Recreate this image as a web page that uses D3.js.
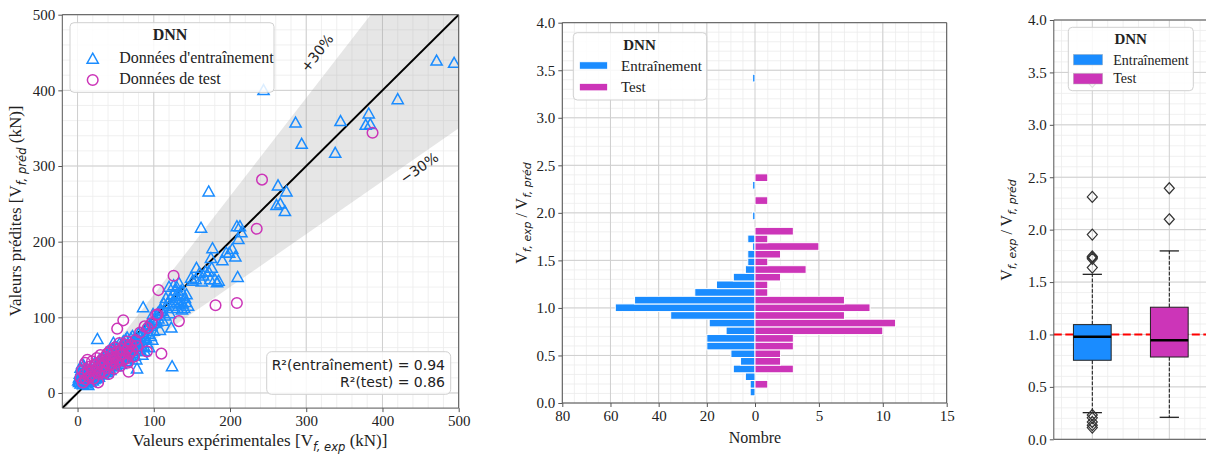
<!DOCTYPE html>
<html><head><meta charset="utf-8">
<script src="https://cdn.jsdelivr.net/npm/d3@7/dist/d3.min.js"></script>
<style>
body{margin:0;background:#fff;}
svg text{fill:#222;}
</style></head><body>
<svg id="fig" width="1206" height="455" font-family="'Liberation Serif', 'Times New Roman', serif"></svg>
<script>
// ---------- DNN predictions: training set [V_exp, V_pred] in kN ----------
const trainPts = [
 [2,14],[3,18],[4,12],[5,22],[5,30],[6,16],[7,11],[7,26],[8,19],[8,36],[9,14],[9,23],[10,17],[10,28],[11,12],[11,21],[12,15],[12,33],[13,19],[13,25],
 [14,10],[14,22],[15,17],[15,29],[3,25],[4,33],[6,38],[2,20],[1,16],[9,31],
 [16,20],[16,26],[17,14],[17,31],[18,22],[18,18],[19,27],[19,35],[20,16],[20,24],[21,29],[21,20],[22,33],[22,18],[23,26],[23,40],[24,22],[24,30],[25,19],[25,35],
 [26,27],[26,71],[27,24],[27,32],[28,38],[28,21],[29,29],[29,44],[30,25],[30,34],
 [31,30],[31,40],[32,27],[32,36],[33,45],[33,31],[34,24],[34,38],[35,33],[35,48],[36,29],[36,41],[37,35],[37,52],[38,31],[38,44],[39,38],[39,27],[40,36],[40,47],
 [41,42],[41,33],[42,55],[42,38],[43,45],[43,30],[44,41],[44,50],[45,35],[45,46],
 [46,40],[46,58],[47,66],[47,44],[48,37],[48,51],[49,46],[49,62],[50,42],[50,55],[51,48],[51,35],[52,60],[52,45],[53,52],[53,40],[54,56],[54,47],[55,50],[55,65],
 [56,43],[56,58],[57,53],[57,38],[58,62],[58,48],[59,55],[59,45],[60,59],[60,68],
 [61,52],[61,64],[62,47],[62,58],[63,70],[63,55],[64,42],[64,61],[65,57],[65,73],[66,50],[66,64],[67,60],[67,45],[68,68],[68,55],[69,62],[70,48],[70,72],[71,58],
 [71,66],[72,52],[72,75],[73,62],[74,56],[74,70],[75,65],[75,49],
 [76,68],[77,44],[78,32],[78,60],[79,72],[80,78],[80,55],[81,65],[82,57],[83,75],[84,70],[85,50],[86,80],[86,113],[87,62],[88,72],[88,55],[89,85],[90,72],[91,66],
 [92,86],[93,78],[94,60],[95,90],[96,75],[97,88],[98,70],[99,104],[100,96],[100,82],
 [102,92],[104,94],[105,105],[106,98],[108,83],[109,110],[110,108],[112,95],[113,118],[115,102],[116,125],[117,112],[118,118],[120,140],[121,105],[122,125],[123,86],[124,35],[124,115],[125,130],
 [126,142],[127,120],[128,135],[129,128],[130,140],[131,112],[132,122],[133,145],[134,118],[135,128],[136,135],[137,110],[138,118],[140,112],[141,125],[142,120],[143,130],[145,115],
 [149,152],[151,148],[155,150],[156,165],[160,158],[163,147],[162,218],[165,155],[168,160],[172,160],[172,266],[174,150],[175,178],[176,165],[177,191],[180,150],[183,146],[185,148],[190,175],[195,185],
 [199,185],[203,190],[207,180],[209,220],[210,153],[211,203],[213,220],[215,212],
 [244,400],[261,248],[263,274],[266,250],[272,240],[274,266],[286,357],[294,329],[338,317],[345,359],[378,354],[382,369],[384,355],[420,388],[471,439],[494,436]
];
// ---------- DNN predictions: test set [V_exp, V_pred] in kN ----------
const testPts = [
 [387,344],[242,282],[235,217],[126,155],[106,136],[181,116],[209,119],[133,95],[60,96],[52,85],[110,52],[91,55],[82,80],[103,103],[67,28],[27,14],
 [4,20],[6,30],[7,14],[9,25],[10,40],[11,18],[13,44],[14,28],[15,21],[16,35],[18,24],[19,42],[20,30],[21,19],[22,37],[24,27],[25,46],[26,33],[28,25],[29,40],
 [30,50],[31,29],[32,44],[33,36],[35,27],[36,48],[37,40],[38,33],[39,52],[40,44],[41,25],[42,36],[43,56],[44,46],[45,38],[46,52],[47,43],[48,32],[49,60],[50,48],
 [51,40],[53,55],[54,45],[55,66],[56,36],[57,50],[58,58],[59,43],[60,52],[62,64],[63,45],[64,56],[65,68],[66,40],[67,60],[68,52],[70,64],[72,56],[74,48],[76,70],
 [78,62],[88,88],[92,86],[97,92],[105,104]
];
const r2Labels = ["R\u00b2(entraînement) = 0.94", "R\u00b2(test) = 0.86"];
const scatterTicks = [0, 100, 200, 300, 400, 500];

// ---------- ratio V_exp / V_pred histogram (shared bins) ----------
const binCentre  = [0.116,0.197,0.277,0.358,0.438,0.519,0.599,0.680,0.760,0.841,0.921,1.002,1.082,1.163,1.243,1.324,1.404,1.485,1.565,1.646,1.726,1.807,1.968,2.129,2.290,2.370,3.417];
const trainCount = [2,2,4,9,6,10,20,20,12,19,35,58,50,25,16,9,4,3,3,1,3,0,1,0,1,0,1];
const testCount  = [0,1,0,3,2,2,3,3,10,11,7,9,7,1,1,2,4,1,2,5,1,3,0,1,0,1,0];
const binWidth = 0.0805;
const trainCountTicks = [80, 60, 40, 20, 0];
const testCountTicks = [5, 10, 15];
const ratioTicks = [0, 0.5, 1, 1.5, 2, 2.5, 3, 3.5, 4];

// ---------- ratio box plots ----------
const boxNames = ["Entraînement", "Test"];
const boxStats = [
  {whislo: 0.254, q1: 0.754, med: 0.979, q3: 1.094, whishi: 1.574},
  {whislo: 0.210, q1: 0.785, med: 0.945, q3: 1.260, whishi: 1.797}
];
const boxFliers = [
  [2.312, 1.953, 1.745, 1.735, 1.722, 1.638, 3.410, 0.232, 0.205, 0.165, 0.135, 0.112],
  [2.395, 2.099]
];

const BLUE = "#1a8cff", MAG = "#cc35b8";
const SANS = "'DejaVu Sans', sans-serif";
const SERIF = "'Liberation Serif', 'Times New Roman', serif";
const svg = d3.select("#fig");
const GRID_MAJ = "#cfcfcf", GRID_MIN = "#ececec", SPINE = "#555";

// text with a math-style italic subscript: parts = [text, {sub}, text, ...]
function richText(g, x, y, parts, size, rotate, anchor) {
  const t = g.append("text").attr("font-size", size).attr("text-anchor", anchor || "middle")
    .attr("transform", `translate(${x},${y})` + (rotate ? ` rotate(${rotate})` : ""));
  const shift = size * 0.28;
  parts.forEach((p, i) => {
    const s = t.append("tspan");
    if (typeof p === "string") {
      s.text(p);
      if (i > 0) s.attr("dy", -shift);
    } else {
      s.text(p.sub).style("font-family", SANS).style("font-style", "italic")
        .attr("font-size", size * 0.68).attr("dy", shift);
    }
  });
  return t;
}

function drawGrid(g, box, vMin, vMaj, hMin, hMaj) {
  const gg = g.append("g");
  vMin.forEach(x => gg.append("line").attr("x1", x).attr("x2", x).attr("y1", box.y0).attr("y2", box.y1).attr("stroke", GRID_MIN).attr("stroke-width", 0.8));
  hMin.forEach(y => gg.append("line").attr("y1", y).attr("y2", y).attr("x1", box.x0).attr("x2", box.x1).attr("stroke", GRID_MIN).attr("stroke-width", 0.8));
  vMaj.forEach(x => gg.append("line").attr("x1", x).attr("x2", x).attr("y1", box.y0).attr("y2", box.y1).attr("stroke", GRID_MAJ).attr("stroke-width", 1));
  hMaj.forEach(y => gg.append("line").attr("y1", y).attr("y2", y).attr("x1", box.x0).attr("x2", box.x1).attr("stroke", GRID_MAJ).attr("stroke-width", 1));
}

function frame(g, box, right) {
  const f = g.append("g").attr("fill", "none").attr("stroke", SPINE).attr("stroke-width", 1);
  f.append("line").attr("x1", box.x0).attr("x2", box.x0).attr("y1", box.y0).attr("y2", box.y1);
  f.append("line").attr("x1", box.x0).attr("x2", box.x1).attr("y1", box.y1).attr("y2", box.y1);
  f.append("line").attr("x1", box.x0).attr("x2", box.x1).attr("y1", box.y0).attr("y2", box.y0);
  if (right !== false) f.append("line").attr("x1", box.x1).attr("x2", box.x1).attr("y1", box.y0).attr("y2", box.y1);
}

function styleAxis(a, size) {
  a.attr("font-family", null).attr("font-size", null);
  a.select(".domain").remove();
  a.selectAll(".tick line").attr("stroke", SPINE);
  a.selectAll(".tick text").style("font-family", SERIF).attr("font-size", size).attr("fill", "#222");
}

// =================== Panel 1: predicted vs experimental ===================
{
  const x = d3.scaleLinear().domain([-20, 500]).range([62.3, 458.7]);
  const y = d3.scaleLinear().domain([-20, 500]).range([408.1, 14.7]);
  const box = {x0: 62.3, x1: 458.7, y0: 14.7, y1: 408.1};
  const g = svg.append("g");
  const minorV = d3.range(0, 501, 20);
  drawGrid(g, box, minorV.map(x), scatterTicks.map(x), minorV.map(y), scatterTicks.map(y));

  g.append("clipPath").attr("id", "clip1").append("rect")
    .attr("x", box.x0).attr("y", box.y0).attr("width", box.x1 - box.x0).attr("height", box.y1 - box.y0);
  const inner = g.append("g").attr("clip-path", "url(#clip1)");
  // ±30 % band
  const band = [[-20, -26], [500, 650], [500, 350], [-20, -14]];
  inner.append("path").attr("d", d3.line().x(d => x(d[0])).y(d => y(d[1]))(band) + "Z")
    .attr("fill", "#9a9a9a").attr("fill-opacity", 0.25);
  inner.append("line").attr("x1", x(-20)).attr("y1", y(-20)).attr("x2", x(500)).attr("y2", y(500))
    .attr("stroke", "#000").attr("stroke-width", 2);

  const tri = "M0,-5.8L5.6,4.2L-5.6,4.2Z";
  inner.append("g").selectAll("path").data(trainPts).join("path")
    .attr("d", tri).attr("transform", d => `translate(${x(d[0])},${y(d[1])})`)
    .attr("fill", "none").attr("stroke", BLUE).attr("stroke-width", 1.5);
  inner.append("g").selectAll("circle").data(testPts).join("circle")
    .attr("cx", d => x(d[0])).attr("cy", d => y(d[1])).attr("r", 5.3)
    .attr("fill", "none").attr("stroke", MAG).attr("stroke-width", 1.5);

  g.append("text").attr("transform", `translate(${321},${56}) rotate(-52)`).attr("text-anchor", "middle")
    .style("font-family", SANS).attr("font-size", 14).text("+30%");
  g.append("text").attr("transform", `translate(${422},${172}) rotate(-35)`).attr("text-anchor", "middle")
    .style("font-family", SANS).attr("font-size", 14).text("\u221230%");

  frame(g, box);
  styleAxis(g.append("g").attr("transform", `translate(0,${box.y1})`).call(d3.axisBottom(x).tickValues(scatterTicks).tickSize(4).tickPadding(3)), 15);
  styleAxis(g.append("g").attr("transform", `translate(${box.x0},0)`).call(d3.axisLeft(y).tickValues(scatterTicks).tickSize(4).tickPadding(3)), 15);

  richText(g, 260, 446, ["Valeurs expérimentales [V", {sub: "f, exp"}, " (kN)]"], 17);
  richText(g, 21, 211, ["Valeurs prédites [V", {sub: "f, préd"}, " (kN)]"], 17, -90);

  // legend
  const L = g.append("g");
  L.append("rect").attr("x", 70).attr("y", 22.7).attr("width", 204).attr("height", 69.6).attr("rx", 4)
    .attr("fill", "#fff").attr("fill-opacity", 0.85).attr("stroke", "#d0d0d0");
  L.append("text").attr("x", 170).attr("y", 40).attr("text-anchor", "middle").attr("font-weight", "bold").attr("font-size", 16).text("DNN");
  L.append("path").attr("d", tri).attr("transform", "translate(92.7,59)").attr("fill", "none").attr("stroke", BLUE).attr("stroke-width", 1.5);
  L.append("circle").attr("cx", 92.7).attr("cy", 80).attr("r", 5.3).attr("fill", "none").attr("stroke", MAG).attr("stroke-width", 1.5);
  L.append("text").attr("x", 119.3).attr("y", 63).attr("font-size", 16).text("Données d'entraînement");
  L.append("text").attr("x", 119.3).attr("y", 84).attr("font-size", 16).text("Données de test");

  // R² box
  const R = g.append("g");
  R.append("rect").attr("x", 266.7).attr("y", 351.7).attr("width", 184).attr("height", 42.6).attr("rx", 5)
    .attr("fill", "#fff").attr("fill-opacity", 0.85).attr("stroke", "#d0d0d0");
  r2Labels.forEach((s, i) => R.append("text").attr("x", 445).attr("y", 369.5 + i * 17.5).attr("text-anchor", "end")
    .style("font-family", SANS).attr("font-size", 14).text(s));
}

// =================== Panel 2: mirrored histogram ===================
{
  const y = d3.scaleLinear().domain([0, 4]).range([403, 22.7]);
  const xl = d3.scaleLinear().domain([80, 0]).range([562.3, 755]);
  const xr = d3.scaleLinear().domain([0, 15]).range([755, 946.7]);
  const box = {x0: 562.3, x1: 946.7, y0: 22.7, y1: 403};
  const g = svg.append("g");
  const vMin = d3.range(75, 0, -5).map(xl).concat(d3.range(1, 15, 1).map(xr));
  const vMaj = trainCountTicks.map(xl).concat(testCountTicks.map(xr));
  drawGrid(g, box, vMin, vMaj, d3.range(0.1, 4, 0.1).map(y), ratioTicks.map(y));

  const h = y(0) - y(binWidth);
  g.append("g").selectAll("rect").data(binCentre.map((c, i) => ({c, n: trainCount[i]})).filter(d => d.n > 0)).join("rect")
    .attr("x", d => xl(d.n)).attr("width", d => xl(0) - xl(d.n))
    .attr("y", d => y(d.c) - h / 2).attr("height", h)
    .attr("fill", BLUE).attr("stroke", "#fff").attr("stroke-width", 1);
  g.append("g").selectAll("rect").data(binCentre.map((c, i) => ({c, n: testCount[i]})).filter(d => d.n > 0)).join("rect")
    .attr("x", xr(0)).attr("width", d => xr(d.n) - xr(0))
    .attr("y", d => y(d.c) - h / 2).attr("height", h)
    .attr("fill", MAG).attr("stroke", "#fff").attr("stroke-width", 1);

  frame(g, box);
  const ax = g.append("g").attr("transform", `translate(0,${box.y1})`);
  styleAxis(ax.append("g").call(d3.axisBottom(xl).tickValues(trainCountTicks).tickSize(4).tickPadding(3)), 15);
  styleAxis(ax.append("g").call(d3.axisBottom(xr).tickValues(testCountTicks).tickSize(4).tickPadding(3)), 15);
  styleAxis(g.append("g").attr("transform", `translate(${box.x0},0)`).call(d3.axisLeft(y).tickValues(ratioTicks).tickFormat(d3.format(".1f")).tickSize(4).tickPadding(3)), 15);

  g.append("text").attr("x", 755).attr("y", 443).attr("text-anchor", "middle").attr("font-size", 16).text("Nombre");
  richText(g, 527, 213, ["V", {sub: "f, exp"}, " / V", {sub: "f, préd"}], 16, -90);

  const L = g.append("g");
  L.append("rect").attr("x", 573.3).attr("y", 32.7).attr("width", 133.4).attr("height", 67.3).attr("rx", 4)
    .attr("fill", "#fff").attr("fill-opacity", 0.85).attr("stroke", "#d0d0d0");
  L.append("text").attr("x", 639.5).attr("y", 49.5).attr("text-anchor", "middle").attr("font-weight", "bold").attr("font-size", 15).text("DNN");
  L.append("rect").attr("x", 579.3).attr("y", 61.7).attr("width", 28.4).attr("height", 7.6).attr("fill", BLUE).attr("stroke", "#fff");
  L.append("rect").attr("x", 579.3).attr("y", 83.3).attr("width", 28.4).attr("height", 7.6).attr("fill", MAG).attr("stroke", "#fff");
  L.append("text").attr("x", 621).attr("y", 70.7).attr("font-size", 15).text(boxNames[0]);
  L.append("text").attr("x", 621).attr("y", 92).attr("font-size", 15).text(boxNames[1]);
}

// =================== Panel 3: box plots ===================
{
  const y = d3.scaleLinear().domain([0, 4]).range([439.3, 20]);
  const x = d3.scaleLinear().domain([0.5, 2.5]).range([1053.8, 1207.8]);
  const box = {x0: 1053.8, x1: 1207.8, y0: 20, y1: 439.3};
  const g = svg.append("g");
  drawGrid(g, box, [0.6, 0.8, 1.2, 1.4, 1.6, 1.8, 2.2, 2.4].map(x), [1, 2].map(x),
    d3.range(0.1, 4, 0.1).map(y), ratioTicks.map(y));

  g.append("line").attr("x1", box.x0).attr("x2", box.x1).attr("y1", y(1)).attr("y2", y(1))
    .attr("stroke", "#ff0000").attr("stroke-width", 2.2).attr("stroke-dasharray", "8,3.5");

  const bw = 0.49, cw = 0.25;
  const cols = [BLUE, MAG];
  boxStats.forEach((s, i) => {
    const c = x(i + 1);
    const bg = g.append("g");
    bg.append("line").attr("x1", c).attr("x2", c).attr("y1", y(s.q3)).attr("y2", y(s.whishi)).attr("stroke", "#111").attr("stroke-dasharray", "3.7,1.6");
    bg.append("line").attr("x1", c).attr("x2", c).attr("y1", y(s.q1)).attr("y2", y(s.whislo)).attr("stroke", "#111").attr("stroke-dasharray", "3.7,1.6");
    [s.whishi, s.whislo].forEach(v => bg.append("line").attr("x1", x(i + 1 - cw / 2)).attr("x2", x(i + 1 + cw / 2))
      .attr("y1", y(v)).attr("y2", y(v)).attr("stroke", "#111").attr("stroke-width", 1.2));
    bg.append("rect").attr("x", x(i + 1 - bw / 2)).attr("width", x(i + 1 + bw / 2) - x(i + 1 - bw / 2))
      .attr("y", y(s.q3)).attr("height", y(s.q1) - y(s.q3)).attr("fill", cols[i]).attr("stroke", "#222").attr("stroke-width", 1);
    bg.append("line").attr("x1", x(i + 1 - bw / 2)).attr("x2", x(i + 1 + bw / 2)).attr("y1", y(s.med)).attr("y2", y(s.med))
      .attr("stroke", "#000").attr("stroke-width", 2.5);
    bg.selectAll("path.f").data(boxFliers[i]).join("path").attr("class", "f")
      .attr("d", "M0,-5.5L5,0L0,5.5L-5,0Z").attr("transform", v => `translate(${c},${y(v)})`)
      .attr("fill", "none").attr("stroke", "#333").attr("stroke-width", 1.2);
  });

  frame(g, box, false);
  styleAxis(g.append("g").attr("transform", `translate(${box.x0},0)`).call(d3.axisLeft(y).tickValues(ratioTicks).tickFormat(d3.format(".1f")).tickSize(4).tickPadding(3)), 15);
  richText(g, 1012, 230, ["V", {sub: "f, exp"}, " / V", {sub: "f, préd"}], 16, -90);

  const L = g.append("g");
  L.append("rect").attr("x", 1068.3).attr("y", 27.3).attr("width", 125).attr("height", 63.4).attr("rx", 4)
    .attr("fill", "#fff").attr("fill-opacity", 0.85).attr("stroke", "#d0d0d0");
  L.append("text").attr("x", 1130.7).attr("y", 43.5).attr("text-anchor", "middle").attr("font-weight", "bold").attr("font-size", 15).text("DNN");
  L.append("rect").attr("x", 1073.3).attr("y", 54.3).attr("width", 29.4).attr("height", 10.7).attr("fill", BLUE).attr("stroke", "#bbb").attr("stroke-width", 0.5);
  L.append("rect").attr("x", 1073.3).attr("y", 73.3).attr("width", 29.4).attr("height", 10.7).attr("fill", MAG).attr("stroke", "#bbb").attr("stroke-width", 0.5);
  L.append("text").attr("x", 1113.3).attr("y", 64.5).attr("font-size", 14).text(boxNames[0]);
  L.append("text").attr("x", 1113.3).attr("y", 83).attr("font-size", 14).text(boxNames[1]);
}
</script>
</body></html>
